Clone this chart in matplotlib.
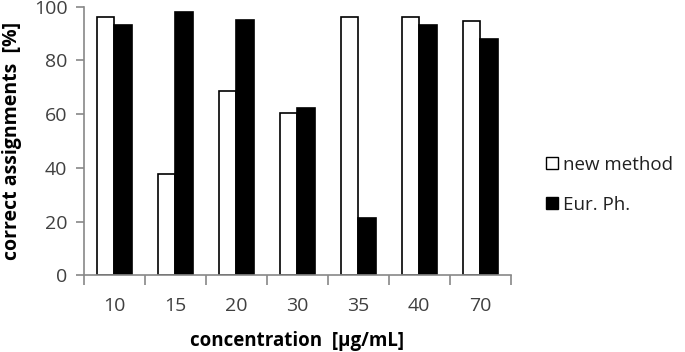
import matplotlib
matplotlib.use("Agg")
import matplotlib.pyplot as plt
import numpy as np
from matplotlib.patches import Patch

categories = ["10", "15", "20", "30", "35", "40", "70"]
new_method = [96.3, 37.7, 68.6, 60.3, 96.3, 96.3, 94.8]
eur_ph = [93.2, 98.1, 95.0, 62.2, 21.2, 93.2, 87.9]
series_names = ["new method", "Eur. Ph."]
yticks = [0, 20, 40, 60, 80, 100]

plt.rcParams['font.family'] = ['Open Sans', 'DejaVu Sans']
fig = plt.figure(figsize=(6.85, 3.52), dpi=100)
ax = fig.add_axes([0.1226, 0.218, 0.623, 0.763])

x = np.arange(len(categories))
w = 0.29
ax.bar(x - w/2, new_method, w, color="white", edgecolor="black", linewidth=1.2)
ax.bar(x + w/2, eur_ph, w, color="black", edgecolor="black", linewidth=1.2)

ax.set_xlim(-0.5, len(categories) - 0.5)
ax.set_ylim(0, 100)
ax.set_yticks(yticks)
ax.set_xticks(x)
ax.set_xticklabels(categories)
ax.set_xticks(np.arange(len(categories) + 1) - 0.5, minor=True)
ax.tick_params(axis='x', which='major', length=0, pad=16, labelsize=14, labelcolor="#404040")
ax.tick_params(axis='x', which='minor', length=7, color="#888888", width=1.2)
ax.tick_params(axis='y', length=6, color="#888888", width=1.2, labelsize=14, labelcolor="#404040", pad=6)
for s in ["top", "right"]:
    ax.spines[s].set_visible(False)
for s in ["left", "bottom"]:
    ax.spines[s].set_color("#888888")
    ax.spines[s].set_linewidth(1.2)

ax.set_ylabel("correct assignments  [%]", fontsize=14, fontweight="bold", va="center")
ax.yaxis.set_label_coords(-0.168, 0.5)
ax.set_xlabel("concentration  [µg/mL]", fontsize=13.5, fontweight="bold", va="center")
ax.xaxis.set_label_coords(0.5, -0.243)

handles = [Patch(facecolor="white", edgecolor="black", label=series_names[0]),
           Patch(facecolor="black", edgecolor="black", label=series_names[1])]
fig.legend(handles=handles, loc="center left", bbox_to_anchor=(0.773, 0.475),
           frameon=False, fontsize=13.5, handlelength=0.6, handleheight=0.6,
           handletextpad=0.3, labelspacing=1.2, labelcolor="#202020")

fig.savefig("out.png", dpi=100)
